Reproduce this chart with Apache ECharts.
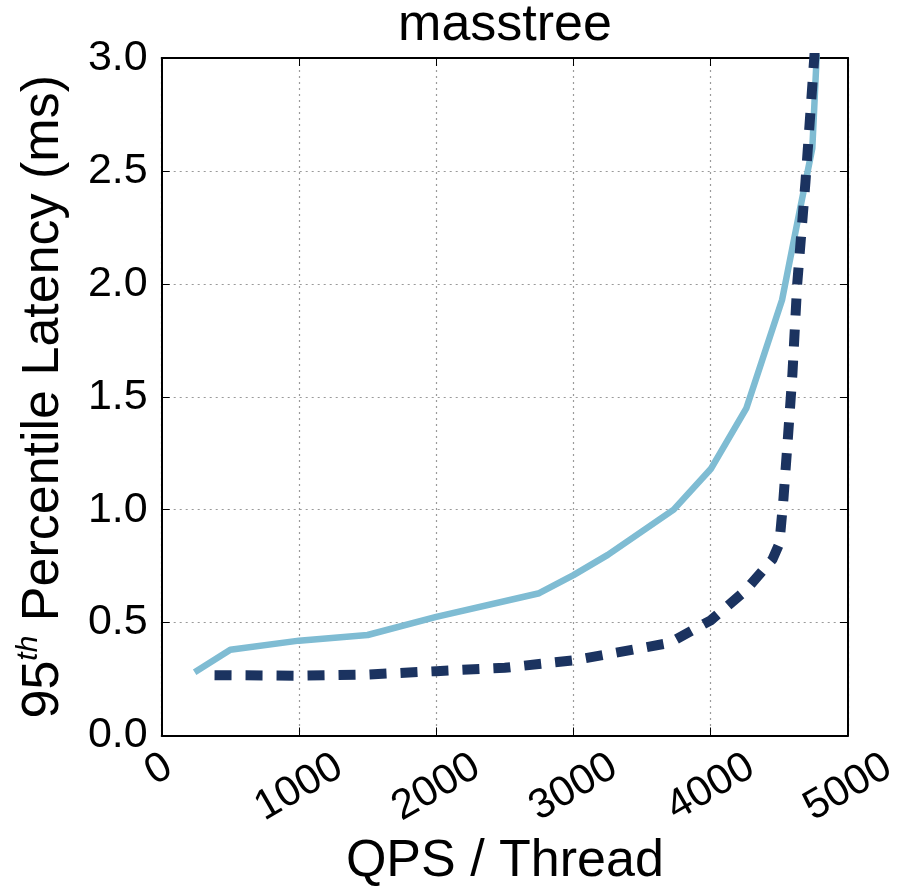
<!DOCTYPE html>
<html>
<head>
<meta charset="utf-8">
<script src="https://cdn.jsdelivr.net/npm/echarts@6/dist/echarts.min.js"></script>
<style>
html,body{margin:0;padding:0;background:#fff;}
#chart{width:898px;height:896px;}
</style>
</head>
<body>
<div id="chart"></div>
<script>
// Data
var titleText = 'masstree';
var xTicks = [0, 1000, 2000, 3000, 4000, 5000];
var yTicks = [0.0, 0.5, 1.0, 1.5, 2.0, 2.5, 3.0];

// light solid series: [QPS/thread, 95th latency ms]
var lightQps = [240, 500, 1000, 1500, 2000, 2750, 3000, 3250, 3730, 4000, 4260, 4520, 4650, 4740, 4775];
var lightLat = [0.28, 0.38, 0.42, 0.445, 0.525, 0.63, 0.71, 0.80, 1.00, 1.18, 1.45, 1.93, 2.33, 2.60, 3.05];

// dark dashed series
var darkQps = [385, 1000, 1500, 2000, 2500, 3000, 3250, 3700, 4000, 4250, 4450, 4500, 4530, 4560, 4595, 4630, 4690, 4760];
var darkLat = [0.267, 0.265, 0.27, 0.285, 0.30, 0.333, 0.36, 0.41, 0.51, 0.64, 0.78, 0.85, 1.05, 1.30, 1.60, 2.00, 2.45, 3.05];

function zip(a, b) { return a.map(function (v, i) { return [v, b[i]]; }); }

var FONT = '"Liberation Sans", Arial, Helvetica, sans-serif';
var chart = echarts.init(document.getElementById('chart'), null, {renderer: 'canvas'});

var gridLine = {show: true, lineStyle: {color: '#9a9a9a', width: 1.2, type: [2, 4]}};

var option = {
  backgroundColor: '#ffffff',
  animation: false,
  title: {
    text: titleText,
    left: 505,
    top: 0,
    padding: 0,
    textAlign: 'center',
    textStyle: {fontFamily: FONT, fontSize: 52, fontWeight: 'normal', color: '#000'}
  },
  grid: {left: 161.7, right: 50, top: 58, bottom: 160.5, containLabel: false, outerBoundsMode: 'none'},
  xAxis: [{
    type: 'value', min: 0, max: 5000, interval: 1000, position: 'bottom',
    name: 'QPS / Thread', nameLocation: 'middle', nameGap: 100, nameMoveOverlap: false,
    nameTextStyle: {fontFamily: FONT, fontSize: 52, color: '#000'},
    axisLine: {show: true, onZero: false, lineStyle: {color: '#000', width: 2}},
    axisTick: {show: true, inside: true, length: 8, lineStyle: {color: '#000', width: 1}},
    splitLine: gridLine,
    axisLabel: {
      show: true, rotate: 30, align: 'center', verticalAlign: 'middle', margin: 52,
      showMinLabel: true, showMaxLabel: true, hideOverlap: false,
      fontFamily: FONT, fontSize: 42, color: '#000',
      formatter: function (v) { return v === 0 ? '{z|0}' : String(v); },
      rich: {z: {fontFamily: FONT, fontSize: 42, color: '#000', padding: [0, 0, 34, 13]}}
    }
  }, {
    type: 'value', min: 0, max: 5000, interval: 1000, position: 'top',
    axisLine: {show: true, onZero: false, lineStyle: {color: '#000', width: 2}},
    axisTick: {show: true, inside: true, length: 8, lineStyle: {color: '#000', width: 1}},
    axisLabel: {show: false}, splitLine: {show: false}
  }],
  yAxis: [{
    type: 'value', min: 0, max: 3, interval: 0.5, position: 'left',
    name: '{a|95}{s|th}{a| Percentile Latency (ms)}', nameLocation: 'middle', nameGap: 88, nameRotate: 90, nameMoveOverlap: false,
    nameTextStyle: {
      fontFamily: FONT, fontSize: 52, color: '#000',
      rich: {
        a: {fontFamily: FONT, fontSize: 52, color: '#000', lineHeight: 60},
        s: {fontFamily: FONT, fontSize: 30, fontStyle: 'italic', color: '#000', lineHeight: 40, verticalAlign: 'top'}
      }
    },
    axisLine: {show: true, onZero: false, lineStyle: {color: '#000', width: 2}},
    axisTick: {show: true, inside: true, length: 8, lineStyle: {color: '#000', width: 1}},
    splitLine: gridLine,
    axisLabel: {
      show: true, margin: 14, fontFamily: FONT, fontSize: 43, color: '#000',
      showMinLabel: true, showMaxLabel: true,
      formatter: function (v) { return v.toFixed(1); }
    }
  }, {
    type: 'value', min: 0, max: 3, interval: 0.5, position: 'right',
    axisLine: {show: true, onZero: false, lineStyle: {color: '#000', width: 2}},
    axisTick: {show: true, inside: true, length: 8, lineStyle: {color: '#000', width: 1}},
    axisLabel: {show: false}, splitLine: {show: false}
  }],
  series: [{
    type: 'line', name: 'light', xAxisIndex: 0, yAxisIndex: 0,
    data: zip(lightQps, lightLat), showSymbol: false, clip: true,
    lineStyle: {color: '#7fbcd3', width: 6.5, cap: 'butt', join: 'round'}
  }, {
    type: 'line', name: 'dark', xAxisIndex: 0, yAxisIndex: 0,
    data: zip(darkQps, darkLat), showSymbol: false, clip: true,
    lineStyle: {color: '#1b3360', width: 10, type: [17, 14], cap: 'butt', join: 'miter'}
  }]
};
chart.setOption(option);
</script>
</body>
</html>
